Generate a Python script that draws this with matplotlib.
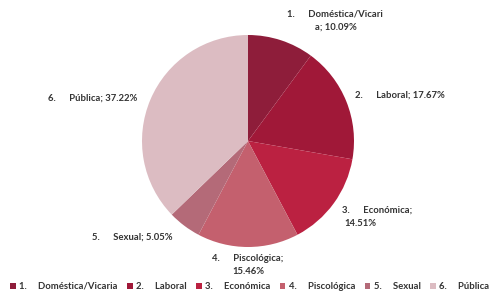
import matplotlib
matplotlib.use("Agg")
import matplotlib.pyplot as plt

categorias = ["1.     Doméstica/Vicaria", "2.     Laboral", "3.     Económica",
              "4.     Piscológica", "5.     Sexual", "6.     Pública"]
porcentajes = [10.09, 17.67, 14.51, 15.46, 5.05, 37.22]
etiquetas = [("1.      Doméstica/Vicari", "a; 10.09%"), ("2.      Laboral; 17.67%", ""),
             ("3.      Económica;", "14.51%"), ("4.      Piscológica;", "15.46%"),
             ("5.      Sexual; 5.05%", ""), ("6.      Pública; 37.22%", "")]
colores = ["#8e1d3a", "#a01838", "#bb2141", "#c4606e", "#b46a78", "#dcbcc2"]

# posicion de cada etiqueta: x linea 1, x linea 2, y (fraccion de la figura)
pos_etiquetas = [(0.581, 0.638, 0.968), (0.718, 0.718, 0.693),
                 (0.692, 0.698, 0.304), (0.429, 0.470, 0.140),
                 (0.186, 0.186, 0.213), (0.097, 0.097, 0.682)]

plt.rcParams['font.family'] = ['Lato', 'DejaVu Sans']

fig = plt.figure(figsize=(4.94, 2.95), dpi=100)
ax = fig.add_axes([142 / 494, 48 / 295, 212 / 494, 212 / 295])

wedges, _ = ax.pie(porcentajes, colors=colores, startangle=90, counterclock=False,
                   wedgeprops=dict(linewidth=0))
ax.set_xlim(-1, 1)
ax.set_ylim(-1, 1)
ax.set_aspect("equal")
ax.axis("off")

estilo = dict(fontsize=6.8, fontweight="bold", color="#333333", ha="left", va="top")
for (linea1, linea2), (x1, x2, y) in zip(etiquetas, pos_etiquetas):
    fig.text(x1, y, linea1, **estilo)
    if linea2:
        fig.text(x2, y - 0.045, linea2, **estilo)

fig.legend(wedges, categorias, loc="lower center", bbox_to_anchor=(0.505, -0.015),
           ncol=6, frameon=False, handlelength=0.6, handleheight=0.6,
           handletextpad=0.35, columnspacing=1.0, labelcolor="#333333",
           prop=dict(weight="bold", size=6.8))

fig.savefig("out.png", dpi=100, facecolor="white")
